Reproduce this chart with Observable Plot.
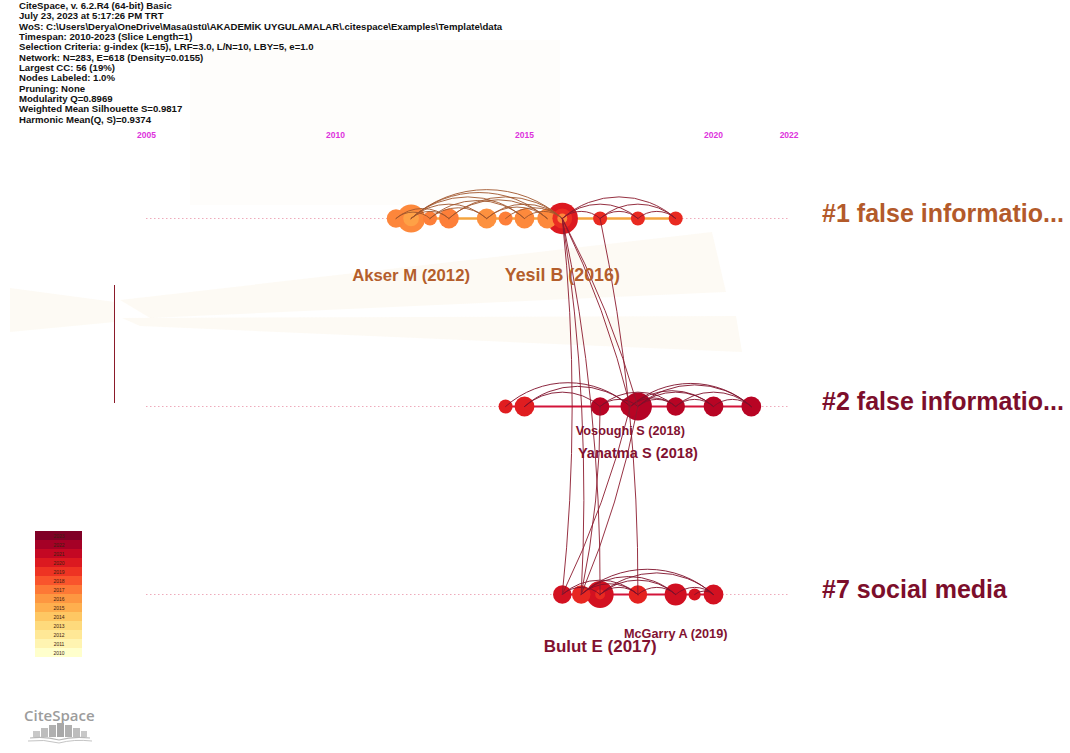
<!DOCTYPE html>
<html>
<head>
<meta charset="utf-8">
<script src="https://cdn.jsdelivr.net/npm/d3@7"></script>
<script src="https://cdn.jsdelivr.net/npm/@observablehq/plot@0.6"></script>
<style>
  html, body { margin: 0; padding: 0; background: #fff; }
  #page { position: relative; width: 1070px; height: 753px; overflow: hidden; font-family: "Liberation Sans", Arial, sans-serif; }
  #wm, #chart, #info, #legend, #logo, #slider { position: absolute; }
  #wm { left: 0; top: 0; }
  #chart { left: 0; top: 0; }
  #info { left: 19px; top: 1px; font-size: 9.6px; font-weight: bold; line-height: 10.35px; color: #111; white-space: pre; }
  #slider { left: 114px; top: 285px; width: 1px; height: 118px; background: #8b1a2a; }
  #legend { left: 35px; top: 527px; }
  #logo { left: 0; top: 700px; }
</style>
</head>
<body>
<div id="page">
  <!-- faint CiteSpace watermark behind the timeline -->
  <svg id="wm" width="1070" height="753">
    <g fill="#f9f1df">
      <rect x="190" y="40" width="370" height="165" opacity="0.12"/>
      <polygon points="120,300 712,232 726,292 150,318" opacity="0.35"/>
      <polygon points="122,318 736,316 742,352 140,326" opacity="0.35"/>
      <polygon points="10,288 115,302 115,322 10,332" opacity="0.35"/>
    </g>
  </svg>
  <div id="chart"></div>
  <div id="info"></div>
  <div id="slider"></div>
  <div id="legend"></div>
  <svg id="logo" width="120" height="50">
    <text x="24" y="21" font-family="'Open Sans', 'Liberation Sans', sans-serif" font-size="15" font-weight="600" fill="#9c9c9c">CiteSpace</text>
    <g>
      <rect x="33" y="31" width="7" height="6" fill="#c8c8c8"/>
      <rect x="41" y="28" width="7" height="9" fill="#bdbdbd"/>
      <rect x="49" y="25" width="7" height="12" fill="#b0b0b0"/>
      <rect x="57" y="23" width="7" height="14" fill="#a8a8a8"/>
      <rect x="65" y="25" width="7" height="12" fill="#b0b0b0"/>
      <rect x="73" y="28" width="7" height="9" fill="#bdbdbd"/>
      <rect x="81" y="31" width="6" height="6" fill="#c8c8c8"/>
    </g>
    <path d="M30,38 Q45,36 59,40 Q73,36 90,38" fill="none" stroke="#b8b8b8" stroke-width="1.2"/>
    <path d="M28,41 Q44,39 59,43 Q74,39 92,41" fill="none" stroke="#c4c4c4" stroke-width="1"/>
  </svg>
</div>
<script>
// ---- run summary printed in the upper-left corner ----
const headerLines = [
  "CiteSpace, v. 6.2.R4 (64-bit) Basic",
  "July 23, 2023 at 5:17:26 PM TRT",
  "WoS: C:\\Users\\Derya\\OneDrive\\Masaüstü\\AKADEMİK UYGULAMALAR\\.citespace\\Examples\\Template\\data",
  "Timespan: 2010-2023 (Slice Length=1)",
  "Selection Criteria: g-index (k=15), LRF=3.0, L/N=10, LBY=5, e=1.0",
  "Network: N=283, E=618 (Density=0.0155)",
  "Largest CC: 56 (19%)",
  "Nodes Labeled: 1.0%",
  "Pruning: None",
  "Modularity Q=0.8969",
  "Weighted Mean Silhouette S=0.9817",
  "Harmonic Mean(Q, S)=0.9374"
];

// ---- timeline axis and legend years ----
const axisYears = [2005, 2010, 2015, 2020, 2022];
const legendYears = [2010, 2011, 2012, 2013, 2014, 2015, 2016, 2017, 2018, 2019, 2020, 2021, 2022, 2023];

// ---- clusters (one timeline row each) ----
const clusterIds = ["#1", "#2", "#7"];
const clusterNames = ["false informatio...", "false informatio...", "social media"];

// ---- cited references per cluster: publication year, citations, latest citing year ----
const c1Years = [2011.6, 2012, 2012.5, 2013, 2014, 2014.5, 2015, 2015.6, 2016, 2017, 2018, 2019];
const c1Cites = [7, 16, 4, 8, 8, 4, 8, 8, 20, 4, 4, 4];
const c1Ring  = [2016.6, 2016.5, 2016.8, 2016.8, 2016.2, 2016.8, 2016.5, 2016.5, 2020.0, 2019.3, 2019.3, 2019.3];

const c2Years = [2014.5, 2015, 2017, 2017.8, 2018, 2019, 2020, 2021];
const c2Cites = [4, 8, 7, 8, 16, 7, 8, 8];
const c2Ring  = [2019.8, 2019.8, 2021.4, 2021.4, 2021.5, 2021.4, 2021.4, 2021.4];

const c7Years = [2016, 2016.5, 2017, 2018, 2019, 2019.5, 2020];
const c7Cites = [7, 7, 15, 7, 10, 3, 8];
const c7Ring  = [2020.4, 2019.4, 2020.4, 2019.6, 2020.5, 2020.3, 2020.4];

// ---- inner citation rings of the most cited references (row, node index) ----
const coreRow   = [0, 0, 0, 2];
const coreIdx   = [1, 8, 8, 2];
const coreCites = [5, 8, 2, 2];
const coreRing  = [2015.6, 2019.2, 2016.6, 2019.3];

// ---- labelled references ----
const labelNames = ["Akser M (2012)", "Yesil B (2016)", "Vosoughi S (2018)", "Yanatma S (2018)", "McGarry A (2019)", "Bulut E (2017)"];
const labelRow   = [0, 0, 1, 1, 2, 2];
const labelIdx   = [1, 8, 3, 4, 4, 2];
const labelFreq  = [18.5, 21, 10, 14, 10, 19];

// ---- co-citation links inside a cluster (node index pairs) ----
const c1Arcs = [[0,3],[0,2],[1,3],[1,4],[1,6],[1,7],[1,8],[2,4],[2,6],[3,7],[3,8],[4,7],[4,8],[5,8],[6,8],[8,9],[8,10],[8,11],[9,10],[10,11],[9,11]];
const c2Arcs = [[0,3],[1,2],[1,3],[2,4],[2,5],[3,5],[3,6],[3,7],[4,5],[4,6],[4,7],[5,6],[5,7],[6,7]];
const c7Arcs = [[0,2],[0,3],[1,3],[1,4],[1,6],[2,3],[2,4],[2,6],[3,4],[4,6],[5,6]];

// ---- links between clusters: [fromRow, fromIdx, toRow, toIdx] ----
const crossLinks = [[0,8,2,0],[0,8,2,1],[0,8,2,2],[0,9,2,3],[0,8,1,3],[0,8,1,4],[1,3,2,0],[1,4,2,1],[1,2,2,1]];

// ---------------------------------------------------------------
document.getElementById("info").textContent = headerLines.join("\n");

const rowTables = [
  [c1Years, c1Cites, c1Ring],
  [c2Years, c2Cites, c2Ring],
  [c7Years, c7Cites, c7Ring]
];
const rows = rowTables.map(([ys, cs, rs], row) =>
  ys.map((year, i) => ({row, year, cites: cs[i], ring: rs[i]})));
const nodes = rows.flat();
const cores = coreRow.map((r, i) => ({...rows[r][coreIdx[i]], cites: coreCites[i], ring: coreRing[i]}));

const toLink = (a, b) => ({x1: a.year, y1: a.row, x2: b.year, y2: b.row, early: b.year <= 2016 && a.year < 2016});
const arcs1 = c1Arcs.map(([s, t]) => toLink(rows[0][s], rows[0][t]));
const arcs2 = [...c2Arcs.map(([s, t]) => toLink(rows[1][s], rows[1][t])),
               ...c7Arcs.map(([s, t]) => toLink(rows[2][s], rows[2][t]))];
const cross = crossLinks.map(([r1, i1, r2, i2]) => toLink(rows[r1][i1], rows[r2][i2]));

const spans = rows.map((ns, row) => ({row, start: d3.min(ns, d => d.year), end: d3.max(ns, d => d.year)}));
const clusters = clusterIds.map((id, row) => ({row, text: `${id} ${clusterNames[row]}`}));
const labels = labelNames.map((name, i) => ({name, ...rows[labelRow[i]][labelIdx[i]], freq: labelFreq[i]}));

// label placement below the row, and colours per row
const labelDrop = {"Akser M (2012)": 57, "Yesil B (2016)": 57, "Vosoughi S (2018)": 24,
                   "Yanatma S (2018)": 47, "McGarry A (2019)": 39, "Bulut E (2017)": 52};
const rowInk = ["#b45e2c", "#821231", "#821231"];
const clusterInk = ["#b35a2a", "#7c0e2b", "#7c0e2b"];

const first = axisYears[0], last = axisYears[axisYears.length - 1];

const chart = Plot.plot({
  width: 1070,
  height: 753,
  margin: 0,
  marginTop: 140,
  style: {background: "transparent", fontFamily: "'Liberation Sans', Arial, sans-serif"},
  x: {domain: [2010, 2020], range: [335, 713]},
  y: {domain: [0, 2], range: [218, 594], axis: null},
  r: {type: "sqrt", domain: [0, 25], range: [0, 17.5]},
  color: {type: "linear", scheme: "YlOrRd", domain: [2010, 2023]},
  marks: [
    // dotted guide for every cluster row
    Plot.ruleY([0, 1, 2], {y: d => d, x1: first, x2: last, stroke: "#eeaabb", strokeWidth: 1, strokeDasharray: "1.5,2.5"}),
    // cluster spans
    Plot.ruleY(spans.slice(0, 1), {y: "row", x1: "start", x2: "end", stroke: "#f4a43e", strokeWidth: 2.5}),
    Plot.ruleY(spans.slice(1), {y: "row", x1: "start", x2: "end", stroke: "#d3143a", strokeWidth: 2}),
    // references
    Plot.dot(nodes, {x: "year", y: "row", r: "cites", fill: "ring"}),
    Plot.dot(cores, {x: "year", y: "row", r: "cites", fill: "ring", sort: {channel: "-r"}}),
    // co-citation arcs
    Plot.arrow(arcs1.filter(d => d.early), {x1: "x1", y1: "y1", x2: "x2", y2: "y2", bend: 42, headLength: 0, stroke: "#a0552c", strokeWidth: 1, strokeOpacity: 0.9}),
    Plot.arrow(arcs1.filter(d => !d.early), {x1: "x1", y1: "y1", x2: "x2", y2: "y2", bend: 42, headLength: 0, stroke: "#8a1a2c", strokeWidth: 1, strokeOpacity: 0.9}),
    Plot.arrow(arcs2, {x1: "x1", y1: "y1", x2: "x2", y2: "y2", bend: 42, headLength: 0, stroke: "#7e0f2a", strokeWidth: 1, strokeOpacity: 0.9}),
    // links across clusters
    Plot.arrow(cross, {x1: "x1", y1: "y1", x2: "x2", y2: "y2", bend: 6, headLength: 0, stroke: "#8b1a2e", strokeWidth: 0.9}),
    // cluster names at the right
    ...clusters.map(c => Plot.text([c], {x: () => last, y: "row", text: "text", dx: 33, dy: -5, textAnchor: "start",
      fontSize: 25, fontWeight: "bold", fill: clusterInk[c.row]})),
    // reference labels
    ...labels.map(l => Plot.text([l], {x: "year", y: "row", text: "name", dy: labelDrop[l.name], textAnchor: "middle",
      fontSize: 8 + 0.47 * l.freq, fontWeight: "bold", fill: rowInk[l.row]})),
    // years along the top
    Plot.axisX(axisYears, {anchor: "top", tickSize: 0, tickPadding: 3, tickFormat: d => String(d), label: null,
      fill: "#dd33dd", fontSize: 8.5, fontWeight: "bold"})
  ]
});
document.getElementById("chart").append(chart);

// year colour legend
const legend = Plot.plot({
  width: 47,
  height: 133,
  margin: 0,
  style: {background: "transparent", fontFamily: "'Liberation Sans', Arial, sans-serif"},
  y: {type: "band", domain: legendYears.slice().reverse(), padding: 0, axis: null},
  color: {type: "linear", scheme: "YlOrRd", domain: [2010, 2023]},
  marks: [
    Plot.cell(legendYears, {y: d => d, fill: d => d}),
    Plot.text(legendYears, {y: d => d, text: d => String(d), fontSize: 5, fill: "#3a2010"})
  ]
});
document.getElementById("legend").append(legend);
</script>
</body>
</html>
